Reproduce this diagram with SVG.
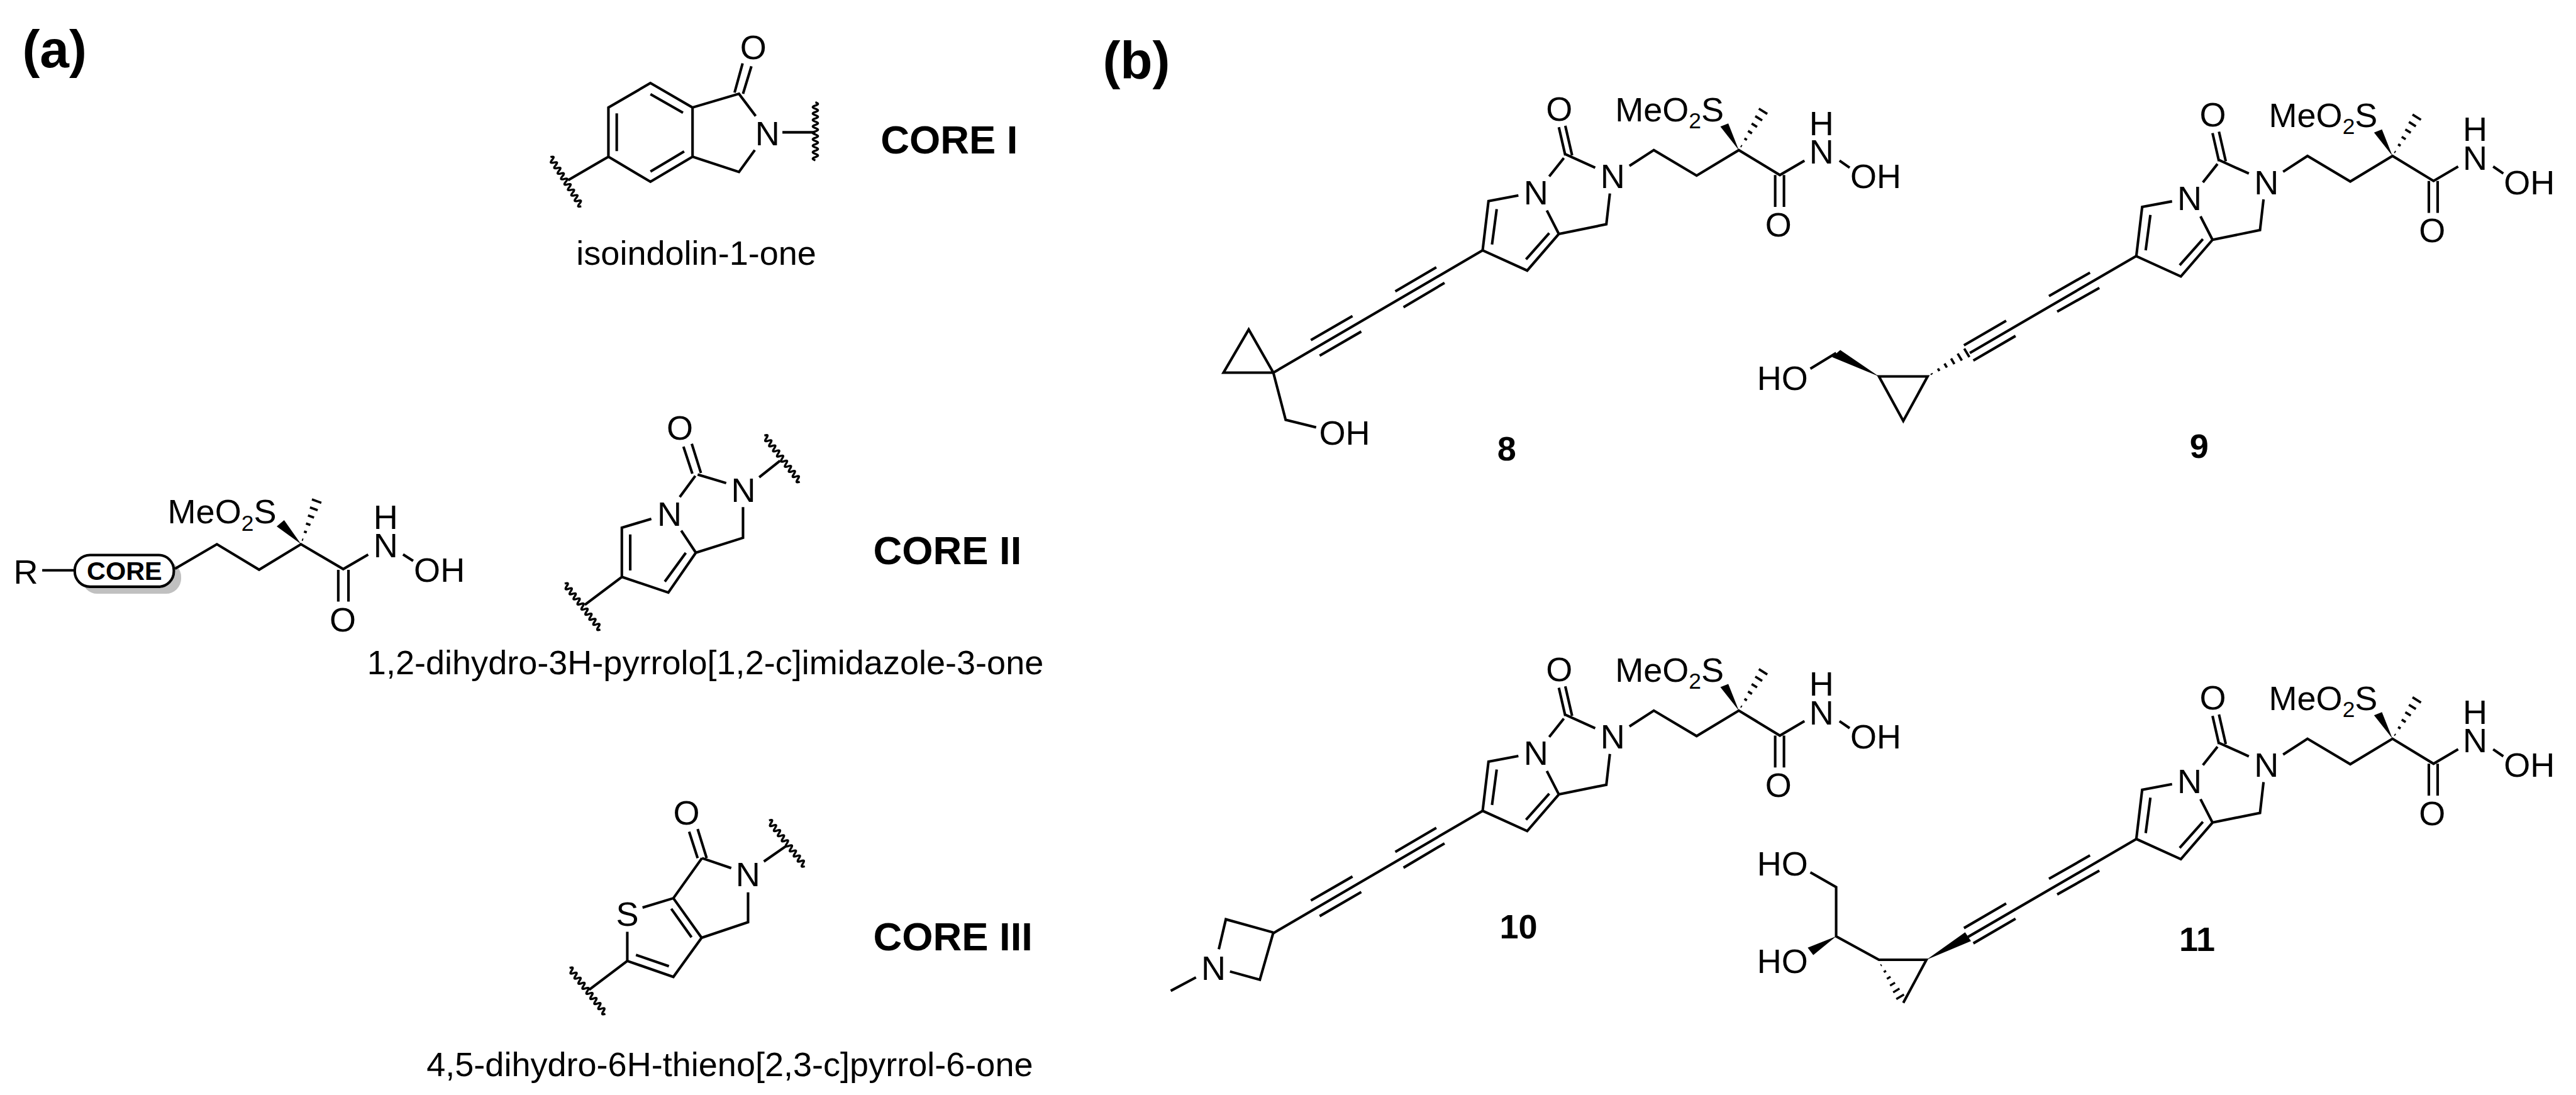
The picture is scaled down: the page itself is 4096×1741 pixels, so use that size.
<svg xmlns="http://www.w3.org/2000/svg" width="4096" height="1741" viewBox="0 0 4096 1741">
<style>
text{font-family:"Liberation Sans",Arial,sans-serif;fill:#000}
.a{font-size:58px}
.s{font-size:38px}
.l{font-size:58px}
.c{font-size:68px;font-weight:700}
.n{font-size:58px;font-weight:700}
.p{font-size:90px;font-weight:700}
.b{fill:none;stroke:#000;stroke-width:4.4;stroke-linecap:butt;stroke-linejoin:miter}
.w{fill:none;stroke:#000;stroke-width:3.6}
.h{fill:none;stroke:#000;stroke-width:4}
</style>
<defs>
<path id="wavy" class="w" d="M-50 0q2.8-9 5.5 0t5.5 0t5.5 0t5.5 0t5.5 0t5.5 0t5.5 0t5.5 0t5.5 0t5.5 0t5.5 0t5.5 0t5.5 0t5.5 0t5.5 0t5.5 0t5.5 0t5.5 0"/>
<path id="hash" class="h" d="M8-1V1M22-2.5V2.500M36-4V4M50-5.500V5.500M64-7V7M78-8.500V8.500"/>
<g id="skeleton">
<path class="b" d="M2659 217L2670 265M2670 214.600L2681.600 265M2667.500 269.600L2642.600 301M2670 263L2721 286M2590 333.400L2539 343L2529 427L2605 461.500L2659 399L2638.500 359M2553 356.600L2545 417M2603 442.300L2642.600 397.700M2659 399L2740 382.500L2746 330M2779.400 283L2821 256L2894 299.500L2966 256L3036 298.600L3078 274M3137.700 274L3155 286M3028 298.600V353M3043 298.600V353"/>
<polygon points="2966,256 2934.500,216 2948,210.600"/>
<use href="#hash" transform="translate(2966 256) rotate(-58)"/>
</g>
<path id="alkyne-sides" class="b" d="M2450 456L2380 497M2464 482.500L2394 524M2307 539L2236 580M2322 565.500L2251 606.600"/>
<path id="alkyne-sides-b" class="b" d="M3565 465L3495 505M3581 491L3509 531.600M3422 547L3350 589M3438 573L3366 615"/>
</defs>
<rect width="4096" height="1741" fill="#fff"/>
<g transform="scale(0.93218)">
<text class="p" x="38" y="115">(a)</text>
<text class="p" x="1881" y="134">(b)</text>

<g id="core-i">
<path class="b" d="M1109.500 141.700L1037.800 183.300V267.300L1109.500 310L1181.300 267.300V183.300ZM1109.500 160.700L1165 192.300M1052 193.300V257.700M1109.500 292.700L1167 258.300M1181.300 183.300L1260.500 160L1289 198M1181.300 267.300L1260.500 293.300L1287.500 256M1253 158L1266.700 108M1267.400 160L1281.700 113M1334.600 225.700H1390.800M1037.800 267.300L969 307.300"/>
<use href="#wavy" transform="translate(1390.800 224.500) rotate(90)"/>
<use href="#wavy" transform="translate(965.500 310.300) rotate(58)"/>
<text class="a" x="1262.400" y="100.700">O</text>
<text class="a" x="1288" y="248">N</text>
<text class="c" x="1502" y="261.700">CORE I</text>
<text class="l" x="983" y="451.700">isoindolin-1-one</text>
</g>

<g id="core-scaffold">
<rect x="140" y="958" width="169" height="54.700" rx="26" fill="#c0c0c0"/>
<rect x="127.500" y="946.700" width="169" height="54" rx="26" fill="#fff" stroke="#000" stroke-width="4.400"/>
<path class="b" d="M72 972.700H125.600M298.500 970L370 928.300L442 971.700L513.400 928.300L585.500 970.700L628 946M687.500 945.700L704.700 956.700M577 972V1026M594.400 972V1026"/>
<polygon points="513.400,928 472,898 484.700,887.300"/>
<use href="#hash" transform="translate(513.400 928) rotate(-70)"/>
<text class="a" x="23" y="995">R</text>
<text class="n" style="font-size:44.500px" x="148" y="989">CORE</text>
<text class="a" x="286" y="893">MeO<tspan class="s" dy="12">2</tspan><tspan dy="-12">S</tspan></text>
<text class="a" x="637" y="902.700">H</text>
<text class="a" x="637" y="950.700">N</text>
<text class="a" x="706" y="992.300">OH</text>
<text class="a" x="562" y="1076.700">O</text>
</g>

<g id="core-ii">
<path class="b" d="M1181 808L1165.800 761.700M1195.600 806.700L1180 757M1190 809.300L1238.700 824M1186 811.700L1159.500 847.700M1111 885L1060.700 900V984L1140 1010.700L1187 942.700L1162 905M1075 911.700V973M1169.800 943L1134 992M1187 942.700L1267.400 917.300V865M1295 814L1330.500 786M1060.700 984L997.600 1031.700"/>
<use href="#wavy" transform="translate(1334.300 782.700) rotate(52.500)"/>
<use href="#wavy" transform="translate(994 1035) rotate(52.200)"/>
<text class="a" x="1137" y="750">O</text>
<text class="a" x="1247" y="855.700">N</text>
<text class="a" x="1121" y="896.700">N</text>
<text class="c" x="1489.400" y="962.700">CORE II</text>
<text class="l" x="1780" y="1150" text-anchor="end">1,2-dihydro-3H-pyrrolo[1,2-c]imidazole-3-one</text>
</g>

<g id="core-iii">
<path class="b" d="M1175.500 1418.700L1190 1463.700M1190 1414L1205.400 1463.700M1197.400 1463.700L1247.300 1480.600M1197.400 1463.700L1148.600 1532L1096 1548M1070 1589.300V1639L1148.600 1666.200L1196.800 1599.500L1148.600 1532M1084.800 1628.700L1141 1648M1145 1550L1179.600 1598.700M1196.800 1599.500L1276 1573V1522M1303 1469.400L1341 1443M1070 1639L1005 1688"/>
<use href="#wavy" transform="translate(1342.600 1438.800) rotate(52)"/>
<use href="#wavy" transform="translate(1002.400 1690.500) rotate(52)"/>
<text class="a" x="1148.400" y="1406.700">O</text>
<text class="a" x="1254.800" y="1511.700">N</text>
<text class="a" x="1050.800" y="1579">S</text>
<text class="c" x="1489.400" y="1621">CORE III</text>
<text class="l" x="1762" y="1835" text-anchor="end">4,5-dihydro-6H-thieno[2,3-c]pyrrol-6-one</text>
</g>

<g id="compound-8">
<use href="#skeleton"/>
<use href="#alkyne-sides"/>
<path class="b" d="M2529 427L2172 635.600M2172 635.600H2087L2130 562L2172 635.600L2193 716L2245 729"/>
<text class="a" x="2637" y="205.700">O</text>
<text class="a" x="2755" y="207">MeO<tspan class="s" dy="12">2</tspan><tspan dy="-12">S</tspan></text>
<text class="a" x="3086" y="230.700">H</text>
<text class="a" x="3086" y="279.400">N</text>
<text class="a" x="3156" y="321">OH</text>
<text class="a" x="2730" y="321">N</text>
<text class="a" x="2599" y="348.600">N</text>
<text class="a" x="3011" y="403.500">O</text>
<text class="a" x="2250" y="758">OH</text>
<text class="n" x="2554" y="785">8</text>
</g>

<g id="compound-9">
<g transform="translate(1115 10)">
<use href="#skeleton"/>
<text class="a" x="2637" y="205.700">O</text>
<text class="a" x="2755" y="207">MeO<tspan class="s" dy="12">2</tspan><tspan dy="-12">S</tspan></text>
<text class="a" x="3086" y="230.700">H</text>
<text class="a" x="3086" y="279.400">N</text>
<text class="a" x="3156" y="321">OH</text>
<text class="a" x="2730" y="321">N</text>
<text class="a" x="2599" y="348.600">N</text>
<text class="a" x="3011" y="403.500">O</text>
</g>
<use href="#alkyne-sides-b"/>
<path class="b" d="M3645 436L3360 602M3205 642H3288L3246.500 718ZM3132 602L3088 629"/>
<use href="#hash" transform="translate(3288 642) rotate(-31)"/>
<polygon points="3205,642 3139,597 3125,609"/>
<text class="a" x="2997" y="665">HO</text>
<text class="n" x="3735" y="781">9</text>
</g>

<g id="compound-10">
<g transform="translate(0 956)">
<use href="#skeleton"/>
<use href="#alkyne-sides"/>
<text class="a" x="2637" y="205.700">O</text>
<text class="a" x="2755" y="207">MeO<tspan class="s" dy="12">2</tspan><tspan dy="-12">S</tspan></text>
<text class="a" x="3086" y="230.700">H</text>
<text class="a" x="3086" y="279.400">N</text>
<text class="a" x="3156" y="321">OH</text>
<text class="a" x="2730" y="321">N</text>
<text class="a" x="2599" y="348.600">N</text>
<text class="a" x="3011" y="403.500">O</text>
<path class="b" d="M2529 427L2172 635.600"/>
</g>
<path class="b" d="M2172 1590.500L2091 1568L2079 1619M2172 1590.500L2149 1671L2098 1657M2040 1667L1997 1690"/>
<text class="a" x="2049" y="1671">N</text>
<text class="n" x="2558" y="1601">10</text>
</g>

<g id="compound-11">
<g transform="translate(1115 1004)">
<use href="#skeleton"/>
<text class="a" x="2637" y="205.700">O</text>
<text class="a" x="2755" y="207">MeO<tspan class="s" dy="12">2</tspan><tspan dy="-12">S</tspan></text>
<text class="a" x="3086" y="230.700">H</text>
<text class="a" x="3086" y="279.400">N</text>
<text class="a" x="3156" y="321">OH</text>
<text class="a" x="2730" y="321">N</text>
<text class="a" x="2599" y="348.600">N</text>
<text class="a" x="3011" y="403.500">O</text>
</g>
<use href="#alkyne-sides-b" transform="translate(0 994)"/>
<path class="b" d="M3645 1430.600L3357 1598M3088 1488L3132 1513V1597L3205 1637H3286L3246.500 1710.600"/>
<polygon points="3286,1637 3352,1590 3362,1605"/>
<polygon points="3132,1597 3083.500,1616.500 3093,1629"/>
<use href="#hash" transform="translate(3205 1640) rotate(59) scale(0.9)"/>
<text class="a" x="2997" y="1493.500">HO</text>
<text class="a" x="2997" y="1660">HO</text>
<text class="n" x="3717" y="1622">11</text>
</g>
</g>
</svg>
